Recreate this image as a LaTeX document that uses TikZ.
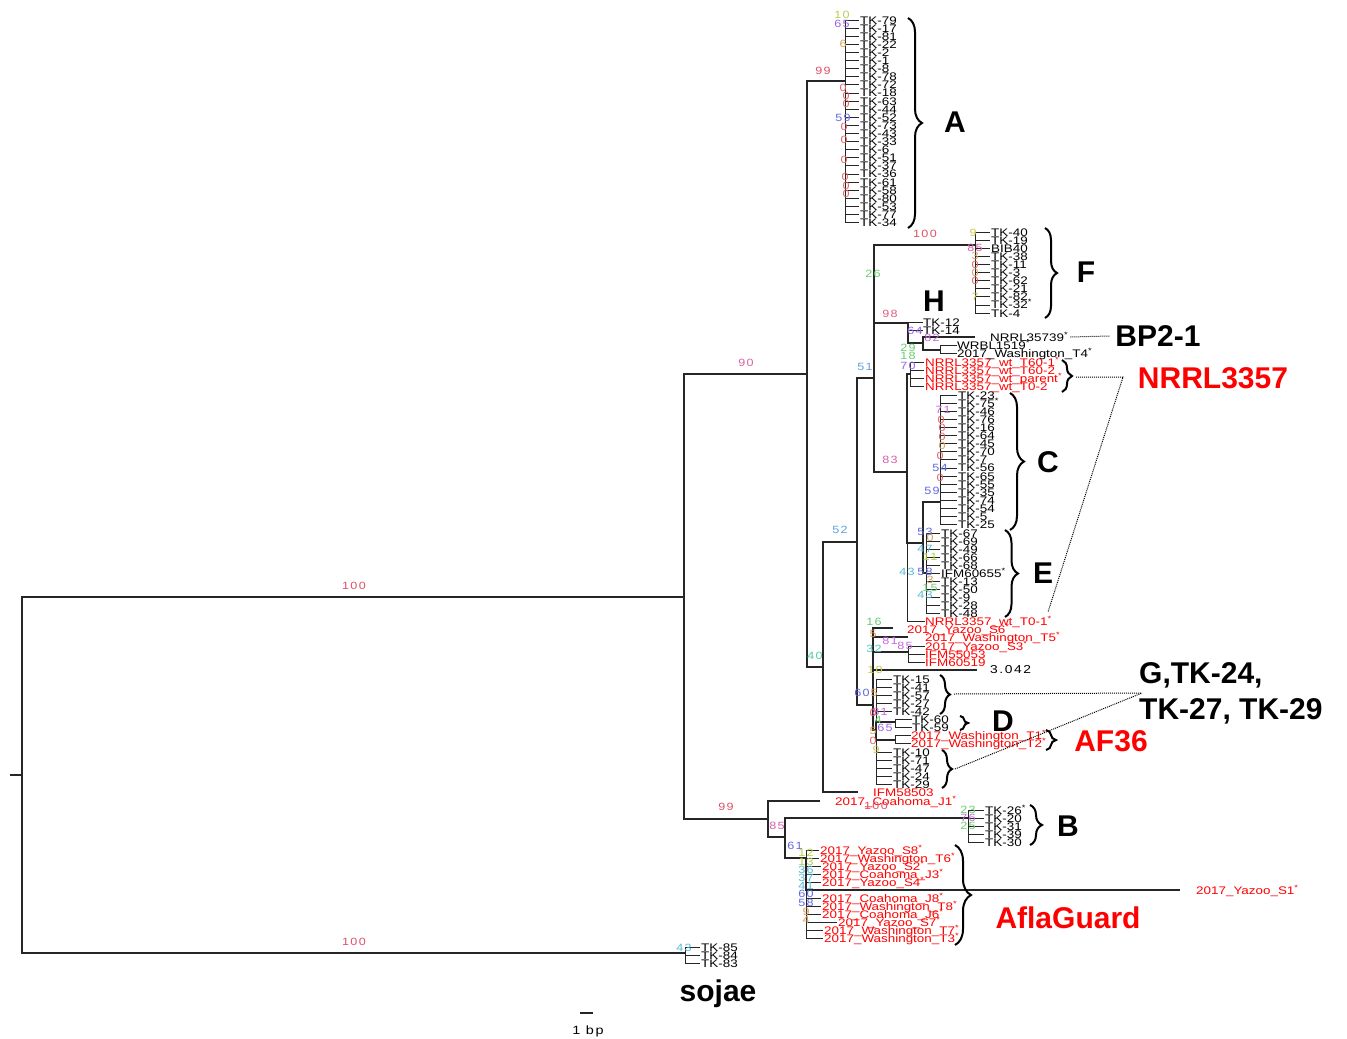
\documentclass[tikz,border=0pt]{standalone}
\usepackage{fontspec}
\setmainfont{Liberation Sans}
\newfontfamily\leaffont[FakeStretch=1.22]{Liberation Sans}
\newfontfamily\bsfont[FakeStretch=1.2,LetterSpace=14]{Liberation Sans}
\usetikzlibrary{decorations.pathreplacing}

\definecolor{bsred}{RGB}{220,80,105}
\definecolor{bsrose}{RGB}{228,92,130}
\definecolor{bspink}{RGB}{214,96,170}
\definecolor{bsmag}{RGB}{198,104,222}
\definecolor{bspurple}{RGB}{150,100,232}
\definecolor{bsblue}{RGB}{96,104,222}
\definecolor{bssky}{RGB}{96,160,222}
\definecolor{bscyan}{RGB}{88,188,214}
\definecolor{bsteal}{RGB}{84,200,176}
\definecolor{bsgreen}{RGB}{104,206,110}
\definecolor{bslime}{RGB}{176,210,72}
\definecolor{bsyellow}{RGB}{204,198,82}
\definecolor{bsorange}{RGB}{214,160,92}
\definecolor{bszero}{RGB}{226,100,100}

\newcommand{\starmark}{\textsuperscript{*}}

\begin{document}
\begin{tikzpicture}[x=1pt, y=-1pt,
    branch/.style={line width=1.2pt, black!85},
    twig/.style={line width=0.8pt, black!85},
    leaf/.style={anchor=west, inner sep=0pt, text height=8pt, text depth=0pt, font=\leaffont\fontsize{11}{11}\selectfont},
    redleaf/.style={leaf, text=red},
    bs/.style={inner sep=0pt, font=\bsfont\fontsize{10.5}{10.5}\selectfont},
    cladename/.style={inner sep=0pt, font=\fontsize{30}{36}\selectfont\bfseries},
    cladebrace/.style={decorate, decoration={brace, amplitude=#1}, line width=2pt},
    guide/.style={line width=1pt, dash pattern=on 1pt off 1pt}]

    \useasboundingbox (0,0) rectangle (1347,1039);

    % inner nodes of the tree
    \coordinate (rootstem) at (10, 775);
    \coordinate (root)  at (22, 775);
    \coordinate (nTop)  at (684, 597);
    \coordinate (nSoj)  at (685, 953);
    \coordinate (n90)   at (807, 374);
    \coordinate (n99)   at (768, 819);
    \coordinate (nA)    at (845, 81);
    \coordinate (n40)   at (823, 667);
    \coordinate (n52)   at (857, 542);
    \coordinate (n51)   at (874, 378);
    \coordinate (nF)    at (975, 245);
    \coordinate (n98)   at (908, 323);
    \coordinate (n82)   at (923, 343);
    \coordinate (nW)    at (940, 350);
    \coordinate (n83)   at (907, 472);
    \coordinate (nN)    at (910, 374);
    \coordinate (n53)   at (923, 543);
    \coordinate (nC)    at (940, 502);
    \coordinate (nE)    at (926, 573);
    \coordinate (n60)   at (873, 705);
    \coordinate (n85a)  at (908, 652);
    \coordinate (nGD)   at (876, 730);
    \coordinate (nD)    at (895, 722);
    \coordinate (nAF)   at (895, 740);
    \coordinate (n85)   at (785, 837);
    \coordinate (nB)    at (968, 818);
    \coordinate (n61)   at (806, 858);

    \draw[branch] (rootstem) -- (root);
    \draw[branch] (root) |- (nTop);
    \draw[branch] (root) |- (nSoj);
    \draw[branch] (nTop) |- (n90);
    \draw[branch] (nTop) |- (n99);
    \draw[branch] (n90) |- (nA);
    \draw[branch] (n90) |- (n40);
    \draw[branch] (n40) |- (n52);
    \draw[branch] (n52) |- (n51);
    \draw[branch] (n52) |- (n60);
    \draw[branch] (n51) |- (nF);
    \draw[branch] (n51) |- (n98);
    \draw[branch] (n51) |- (n83);
    \draw[branch] (n98) |- (n82);
    \draw[branch] (n82) |- (nW);
    \draw[branch] (n83) |- (nN);
    \draw[branch] (n83) |- (n53);
    \draw[branch] (n53) |- (nC);
    \draw[branch] (n53) |- (nE);
    \draw[branch] (n60) |- (n85a);
    \draw[branch] (n60) |- (nGD);
    \draw[branch] (nGD) |- (nD);
    \draw[branch] (nGD) |- (nAF);
    \draw[branch] (n99) |- (n85);
    \draw[branch] (n85) |- (nB);
    \draw[branch] (n85) |- (n61);

    % clades of tips
    \foreach \lab [count=\i from 0] in {TK-79, TK-17, TK-81, TK-22, TK-2, TK-1, TK-8, TK-78, TK-72, TK-18, TK-63, TK-44, TK-52, TK-73, TK-43, TK-33, TK-6, TK-51, TK-37, TK-36, TK-61, TK-58, TK-80, TK-53, TK-77, TK-34} {
        \node[leaf] (a\i) at (860, {20+8.1*\i}) {\lab};
        \draw[twig] (nA) |- ([xshift=-1pt]a\i.west);
    }
    \foreach \lab [count=\i from 0] in {TK-40, TK-19, BIB40, TK-38, TK-11, TK-3, TK-62, TK-21, TK-82, TK-32\starmark, TK-4} {
        \node[leaf] (f\i) at (991, {232+8.1*\i}) {\lab};
        \draw[twig] (nF) |- ([xshift=-1pt]f\i.west);
    }
    \foreach \lab [count=\i from 0] in {TK-23, TK-75\starmark, TK-46, TK-76, TK-16, TK-64, TK-45, TK-70, TK-7, TK-56, TK-65, TK-55, TK-35, TK-74, TK-54, TK-5, TK-25} {
        \node[leaf] (c\i) at (958, {395+8.1*\i}) {\lab};
        \draw[twig] (nC) |- ([xshift=-1pt]c\i.west);
    }
    \foreach \lab [count=\i from 0] in {TK-67, TK-69, TK-49, TK-66, TK-68, IFM60655\starmark, TK-13, TK-50, TK-9, TK-28, TK-48} {
        \node[leaf] (e\i) at (941, {533+8*\i}) {\lab};
        \draw[twig] (nE) |- ([xshift=-1pt]e\i.west);
    }
    \foreach \lab [count=\i from 0] in {NRRL3357\_wt\_T60-1\starmark, NRRL3357\_wt\_T60-2, NRRL3357\_wt\_parent\starmark, NRRL3357\_wt\_T0-2} {
        \node[redleaf] (nr\i) at (925, {362+8*\i}) {\lab};
        \draw[twig] (nN) |- ([xshift=-1pt]nr\i.west);
    }
    \foreach \lab [count=\i from 0] in {TK-15, TK-41, TK-57, TK-27, TK-42} {
        \node[leaf] (g\i) at (893, {679+8.2*\i}) {\lab};
        \draw[twig] (nGD) |- ([xshift=-1pt]g\i.west);
    }
    \foreach \lab [count=\i from 0] in {TK-10, TK-71, TK-47, TK-24, TK-29} {
        \node[leaf] (h\i) at (893, {752+8.2*\i}) {\lab};
        \draw[twig] (nGD) |- ([xshift=-1pt]h\i.west);
    }
    \foreach \lab [count=\i from 0] in {TK-26\starmark, TK-20, TK-31, TK-39, TK-30} {
        \node[leaf] (b\i) at (985, {810+8*\i}) {\lab};
        \draw[twig] (nB) |- ([xshift=-1pt]b\i.west);
    }
    \foreach \lab [count=\i from 0] in {TK-85, TK-84, TK-83} {
        \node[leaf] (s\i) at (701, {947+8*\i}) {\lab};
        \draw[twig] (nSoj) |- ([xshift=-1pt]s\i.west);
    }
    \foreach \lab/\lx/\ly [count=\i from 0] in {2017\_Yazoo\_S8\starmark/820/850, 2017\_Washington\_T6\starmark/820/858, 2017\_Yazoo\_S2\starmark/822/866, 2017\_Coahoma\_J3\starmark/822/874, 2017\_Yazoo\_S4\starmark/822/882, 2017\_Coahoma\_J8\starmark/822/898, 2017\_Washington\_T8\starmark/822/906, 2017\_Coahoma\_J6\starmark/822/914, 2017\_Yazoo\_S7\starmark/838/922, 2017\_Washington\_T7\starmark/824/930, 2017\_Washington\_T3\starmark/824/938} {
        \node[redleaf] (ag\i) at (\lx, \ly) {\lab};
        \draw[twig] (n61) |- ([xshift=-1pt]ag\i.west);
    }

    % single tips
    \node[leaf] (tk12) at (923, 322) {TK-12};
    \node[leaf] (tk14) at (923, 330) {TK-14};
    \draw[twig] (n98) |- (tk12.west);
    \draw[twig] (n98) |- (tk14.west);
    \node[leaf] (n35739) at (990, 337) {NRRL35739\starmark};
    \coordinate (t35739) at (975, 337);
    \draw[branch] (n82) |- (t35739);
    \node[leaf] (wrbl) at (957, 345) {WRBL1519\starmark};
    \node[leaf] (wasT4) at (957, 353) {2017\_Washington\_T4\starmark};
    \draw[twig] (nW) |- (wrbl.west);
    \draw[twig] (nW) |- (wasT4.west);
    \node[redleaf] (nrT01) at (925, 621) {NRRL3357\_wt\_T0-1\starmark};
    \draw[twig] (n83) |- (nrT01.west);
    \node[redleaf] (yazS6) at (907, 629) {2017\_Yazoo\_S6\starmark};
    \coordinate (tS6) at (893, 628);
    \draw[branch] (n60) |- (tS6);
    \node[redleaf] (wasT5) at (925, 637) {2017\_Washington\_T5\starmark};
    \coordinate (tT5) at (908, 637);
    \draw[branch] (n60) |- (tT5);
    \node[redleaf] (yazS3) at (925, 646) {2017\_Yazoo\_S3\starmark};
    \node[redleaf] (ifm55) at (925, 654) {IFM55053};
    \node[redleaf] (ifm60) at (925, 662) {IFM60519};
    \draw[twig] (n85a) |- (yazS3.west);
    \draw[twig] (n85a) |- (ifm55.west);
    \draw[twig] (n85a) |- (ifm60.west);
    \node[bs, anchor=west, font=\bsfont\fontsize{11.5}{11.5}\selectfont] (t3042) at (990, 670) {3.042};
    \coordinate (t3042tip) at (977, 670);
    \draw[branch] (n60) |- (t3042tip);
    \node[leaf] (tk60) at (912, 719) {TK-60};
    \node[leaf] (tk59) at (912, 727) {TK-59};
    \draw[twig] (nD) |- (tk60.west);
    \draw[twig] (nD) |- (tk59.west);
    \node[redleaf] (wasT1) at (911, 735) {2017\_Washington\_T1\starmark};
    \node[redleaf] (wasT2) at (911, 743) {2017\_Washington\_T2\starmark};
    \draw[twig] (nAF) |- (wasT1.west);
    \draw[twig] (nAF) |- (wasT2.west);
    \node[redleaf] (ifm58) at (873, 792) {IFM58503};
    \coordinate (tifm58) at (858, 792);
    \draw[branch] (n40) |- (tifm58);
    \node[redleaf] (coaJ1) at (835, 801) {2017\_Coahoma\_J1\starmark};
    \coordinate (tJ1) at (820, 801);
    \draw[branch] (n99) |- (tJ1);
    \node[redleaf] (yazS1) at (1196, 890) {2017\_Yazoo\_S1\starmark};
    \coordinate (tS1) at (1180, 890);
    \draw[branch] (n61) |- (tS1);

    % support values
    \foreach \bx/\by/\bc/\bt [count=\k] in {
        354/586/bsred/100, 354/942/bsred/100, 746/363/bspink/90, 726/807/bsred/99,
        823/71/bsred/99, 842/15/bslime/10, 842/24/bspurple/65, 843/44/bsorange/6, 843/118/bsblue/59,
        925/234/bsred/100, 873/274/bsgreen/26, 890/314/bsrose/98, 915/331/bspurple/64, 932/338/bsmag/82,
        908/348/bsgreen/29, 908/356/bsgreen/18, 908/366/bspurple/70,
        865/367/bssky/51, 890/460/bspink/83, 840/530/bssky/52, 815/656/bsteal/40, 862/693/bsblue/60,
        973/233/bsyellow/9, 975/248/bspink/85, 975/256/bsorange/3, 975/297/bsyellow/7,
        943/410/bsmag/71, 940/468/bsblue/54, 932/491/bsblue/59,
        925/532/bsblue/53, 925/549/bscyan/47, 930/557/bslime/11, 907/572/bscyan/43, 925/572/bsblue/58,
        930/588/bsgreen/15, 925/595/bscyan/43,
        874/622/bsgreen/16, 873/634/bsorange/5, 890/641/bsmag/81, 874/649/bsteal/32, 905/646/bsmag/85, 875/670/bsyellow/10,
        874/693/bsorange/5, 880/712/bsmag/81, 878/720/bsgreen/4, 885/728/bspurple/65, 873/731/bsorange/5, 876/750/bsyellow/9,
        876/806/bsred/100, 777/826/bspink/85, 795/846/bsblue/61,
        968/810/bsgreen/23, 968/818/bsmag/76, 968/826/bsgreen/25,
        806/853/bslime/12, 806/862/bslime/13, 806/870/bscyan/36, 806/878/bscyan/37, 806/886/bscyan/41,
        806/894/bsblue/60, 806/903/bsblue/58, 806/912/bsorange/9, 806/920/bsorange/4,
        684/948/bscyan/43,
        843/88/bszero/0, 846/96/bszero/0, 846/104/bszero/0, 844/127/bszero/0, 844/140/bszero/0,
        844/160/bszero/0, 845/177/bszero/0, 846/186/bszero/0, 846/194/bszero/0,
        975/265/bszero/0, 975/273/bsorange/0, 975/281/bszero/0,
        941/420/bszero/0, 942/428/bszero/0, 942/437/bszero/0, 942/446/bsorange/0, 940/456/bszero/0, 940/478/bszero/0,
        930/538/bsorange/0, 930/580/bsorange/3, 873/713/bszero/0, 873/741/bszero/0} {
        \node[bs, text=\bc] (bs\k) at (\bx, \by) {\bt};
    }

    % braces and group names
    \draw[cladebrace=14] (908, 18) -- (908, 228);
    \draw[cladebrace=12] (1045, 228) -- (1045, 318);
    \draw[cladebrace=10] (1062, 360) -- (1062, 392);
    \draw[cladebrace=14] (1010, 393) -- (1010, 530);
    \draw[cladebrace=13] (1005, 530) -- (1005, 617);
    \draw[cladebrace=10] (940, 675) -- (940, 714);
    \draw[cladebrace=8]  (960, 716) -- (960, 730);
    \draw[cladebrace=10] (1046, 730) -- (1046, 750);
    \draw[cladebrace=10] (942, 750) -- (942, 788);
    \draw[cladebrace=12] (1030, 805) -- (1030, 845);
    \draw[cladebrace=16] (955, 845) -- (955, 945);

    \node[cladename] (labA) at (955, 122) {A};
    \node[cladename] (labF) at (1086, 272) {F};
    \node[cladename] (labH) at (934, 301) {H};
    \node[cladename] (labBP) at (1158, 336) {BP2-1};
    \node[cladename, text=red] (labNR) at (1213, 378) {NRRL3357};
    \node[cladename] (labC) at (1048, 462) {C};
    \node[cladename] (labE) at (1043, 573) {E};
    \node[cladename, anchor=west, align=left] (labG) at (1139, 693) {G,TK-24,\\TK-27, TK-29};
    \node[cladename] (labD) at (1003, 721) {D};
    \node[cladename, text=red] (labAF) at (1111, 741) {AF36};
    \node[cladename] (labB) at (1068, 826) {B};
    \node[cladename, text=red] (labAG) at (1068, 918) {AflaGuard};
    \node[cladename, anchor=base] (labS) at (718, 1001) {sojae};

    % dotted guides
    \coordinate (nrtip) at (1076, 377);
    \coordinate (nrbend) at (1123, 377);
    \coordinate (nrend) at (1048, 612);
    \coordinate (gtip1) at (954, 694);
    \coordinate (gtip2) at (955, 769);
    \coordinate (gmeet) at (1142, 693);
    \draw[guide] ([xshift=2pt]n35739.east) -- ([xshift=-6pt]labBP.west);
    \draw[guide] (nrtip) -- (nrbend) -- (nrend);
    \draw[guide] (gtip1) -- (gmeet);
    \draw[guide] (gtip2) -- (gmeet);

    % scale bar
    \coordinate (sb1) at (580, 1013);
    \coordinate (sb2) at (593, 1013);
    \draw[branch] (sb1) -- (sb2);
    \node[bs, font=\bsfont\fontsize{12}{12}\selectfont] (sblab) at (588, 1031) {1 bp};

\end{tikzpicture}
\end{document}
